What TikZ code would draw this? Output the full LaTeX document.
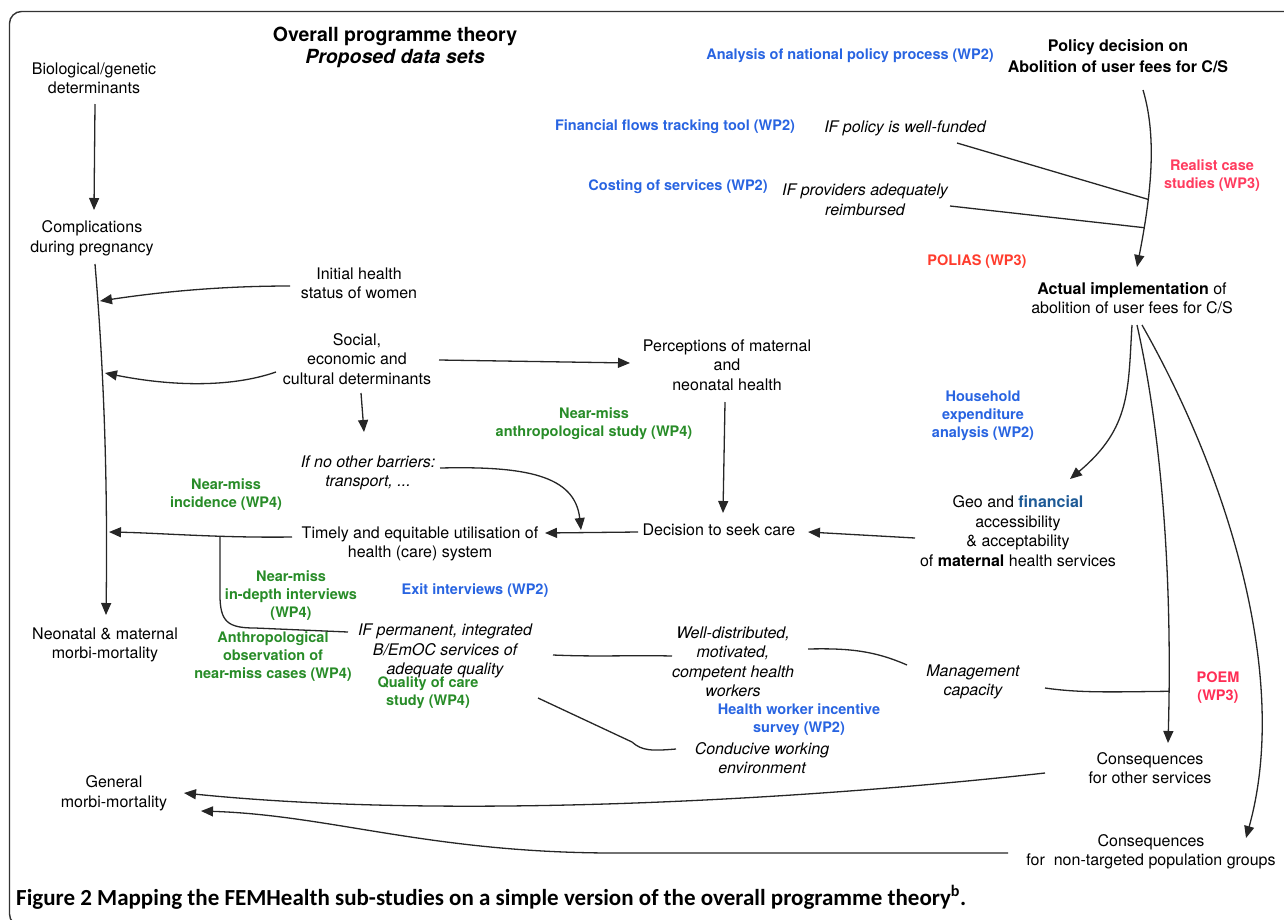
\documentclass[tikz,border=0pt]{standalone}
\usepackage{fontspec}
\setmainfont{TeX Gyre Heros}
\newfontfamily\capfont{Carlito}
\usetikzlibrary{arrows.meta,calc}
\definecolor{wpblue}{RGB}{40,100,225}
\definecolor{wpgreen}{RGB}{40,140,40}
\definecolor{realred}{RGB}{255,60,95}
\definecolor{poliasred}{RGB}{255,60,45}
\definecolor{poemred}{RGB}{255,45,85}
\definecolor{finblue}{RGB}{30,90,150}
\tikzset{
 txt/.style={font=\fontsize{16}{19.5}\selectfont, align=center, inner sep=1pt},
 itx/.style={font=\itshape\fontsize{16}{19.5}\selectfont, align=center, inner sep=1pt},
 lbl/.style={font=\bfseries\fontsize{14.5}{18}\selectfont, align=center, inner sep=1pt},
 bld/.style={font=\bfseries\fontsize{16}{20.5}\selectfont, align=center, inner sep=1pt},
 ttl/.style={font=\bfseries\fontsize{19.5}{21.5}\selectfont, align=center, inner sep=1pt},
 ln/.style={draw=black!85, line width=1.3pt},
 arr/.style={ln, -{Triangle[length=12pt,width=10pt]}},
}
\begin{document}
\begin{tikzpicture}[x=1pt,y=-1pt]
\useasboundingbox (0,0) rectangle (1284,919);
\draw[line width=1.4pt, draw=black!80, rounded corners=12pt] (9.5,11.5) rectangle (1310,926);

% ---- nodes ----
\node[ttl] (title) at (395,47.5) {Overall programme theory\\\textit{Proposed data sets}};
\node[txt] (bio) at (94,78.5) {Biological/genetic\\determinants};
\node[txt] (comp) at (92,238.5) {Complications\\during pregnancy};
\node[txt] (neo) at (105,645) {Neonatal \& maternal\\morbi-mortality};
\node[txt] (init) at (359,283.5) {Initial health\\status of women};
\node[txt] (social) at (357,359) {Social,\\economic and\\cultural determinants};
\node[txt] (percep) at (727,365) {Perceptions of maternal\\and\\neonatal health};
\node[itx] (barr) at (368,473) {If no other barriers:\\transport, ...};
\node[txt] (timely) at (420,544) {Timely and equitable utilisation of\\health (care) system};
\node[txt] (decision) at (719,530) {Decision to seek care};
\node[txt] (geo) at (1018,531) {Geo and \textcolor{finblue}{\bfseries financial}\\accessibility\\\& acceptability\\of \textbf{maternal} health services};
\node[lbl,text=wpblue] (household) at (983,416) {Household\\expenditure\\analysis (WP2)};
\node[lbl,text=wpgreen] (nmanthro) at (594,424) {Near-miss\\anthropological study (WP4)};
\node[lbl,text=wpgreen] (nmincid) at (226,495) {Near-miss\\incidence (WP4)};
\node[lbl,text=wpgreen] (nmdepth) at (291,596) {Near-miss\\in-depth interviews\\(WP4)};
\node[lbl,text=wpgreen] (anthobs) at (273,657) {Anthropological\\observation of\\near-miss cases (WP4)};
\node[lbl,text=wpgreen] (quality) at (428,693) {Quality of care\\study (WP4)};
\node[lbl,text=wpblue] (exit) at (475,591) {Exit interviews (WP2)};
\node[itx] (ifperm) at (445,651) {IF permanent, integrated\\B/EmOC services of\\adequate quality};
\node[itx] (welldist) at (733,662) {Well-distributed,\\motivated,\\competent health\\workers};
\node[lbl,text=wpblue] (hwsurvey) at (799,720) {Health worker incentive\\survey (WP2)};
\node[itx] (mgmt) at (973,682) {Management\\capacity};
\node[itx] (conducive) at (762,758) {Conducive working\\environment};
\node[txt] (general) at (114,793.5) {General\\morbi-mortality};
\node[txt] (consoth) at (1150,768) {Consequences\\for other services};
\node[txt] (consnon) at (1151,852) {Consequences\\for\ \ non-targeted population groups};
\node[lbl,text=poemred] (poem) at (1218,688) {POEM\\(WP3)};
\node[lbl,text=realred] (realist) at (1212,176) {Realist case\\studies (WP3)};
\node[lbl,text=poliasred] (polias) at (977,262) {POLIAS (WP3)};
\node[txt] (actual) at (1132,298) {\textbf{Actual implementation} of\\abolition of user fees for C/S};
\node[bld] (policy) at (1118,56) {Policy decision on\\Abolition of user fees for C/S};
\node[lbl,text=wpblue] (analysis) at (850,56) {Analysis of national policy process (WP2)};
\node[lbl,text=wpblue] (financial) at (675,127) {Financial flows tracking tool (WP2)};
\node[lbl,text=wpblue] (costing) at (678,187) {Costing of services (WP2)};
\node[itx] (ifpolicy) at (905,128) {IF policy is well-funded};
\node[itx] (ifprov) at (865,200) {IF providers adequately\\reimbursed};
\node[anchor=west, inner sep=0pt, font=\capfont\bfseries\fontsize{23}{26}\selectfont] (caption) at (16,897) {Figure 2 Mapping the FEMHealth sub-studies on a simple version of the overall programme theory\textsuperscript{b}.};

% ---- junction coordinates ----
\coordinate (mA) at (100,301);
\coordinate (mB) at (105,373);
\coordinate (mC) at (109,532);
\coordinate (jb) at (220,537);
\coordinate (jd) at (581,530);

% ---- connectors ----
\draw[arr] ([shift={(1,25.5)}]bio.center) -- ([shift={(2,-28.5)}]comp.center);
\draw[arr] ([shift={(3,25.5)}]comp.center) .. controls (103,360) and (108,470) .. ([shift={(1,-30)}]neo.center);
\draw[arr] ([shift={(-69,2.5)}]init.center) .. controls (220,286) and (160,292) .. (mA);
\draw[arr] ([shift={(-81,13)}]social.center) .. controls (230,388) and (170,386) .. (mB);
\draw[arr] ([shift={(82,1)}]social.center) -- ([shift={(-97,-2)}]percep.center);
\draw[arr] ([shift={(4,34)}]social.center) -- ([shift={(-4,-41)}]barr.center);
\draw[arr] ([shift={(-2,37)}]percep.center) -- ([shift={(4,-17)}]decision.center);
\draw[arr] ([shift={(72,-5)}]barr.center) .. controls (525,466) and (575,475) .. (jd);
\draw[arr] ([shift={(-81,2)}]decision.center) -- ([shift={(125,-11)}]timely.center);
\draw[arr] ([shift={(-128,-7)}]timely.center) .. controls (220,538) and (160,533) .. (mC);
\draw[ln] (jb) -- (220,595) .. controls (220,622) and (228,628) .. (255,628) -- ([shift={(-97,-19)}]ifperm.center);
\draw[arr] ([shift={(-103,7)}]geo.center) -- ([shift={(89,2)}]decision.center);
\draw[ln] ([shift={(108,4)}]ifperm.center) .. controls (600,657) and (630,655) .. ([shift={(-61,-6)}]welldist.center);
\draw[ln] ([shift={(75,-13)}]welldist.center) .. controls (850,648) and (875,651) .. ([shift={(-66,-17)}]mgmt.center);
\draw[ln] ([shift={(93,47)}]ifperm.center) -- (632,742) .. controls (642,751) and (652,751) .. ([shift={(-86,-9)}]conducive.center);

% policy to actual
\draw[arr] ([shift={(25,34)}]policy.center) .. controls (1158,140) and (1150,200) .. ([shift={(5,-31)}]actual.center)
  coordinate[pos=0.65] (jp1) coordinate[pos=0.8] (jp2);
\draw[ln] ([shift={(52,15)}]ifpolicy.center) -- (jp1);
\draw[ln] ([shift={(85,6)}]ifprov.center) -- (jp2);

% from actual implementation
\draw[arr] ([shift={(0,27)}]actual.center) .. controls (1128,390) and (1131,428) .. ([shift={(52,-52)}]geo.center);
\draw[arr] ([shift={(5,27)}]actual.center) .. controls (1165,450) and (1172,600) .. ([shift={(18,-25)}]consoth.center)
  coordinate[pos=0.88] (j2);
\draw[arr] ([shift={(10,27)}]actual.center) .. controls (1230,480) and (1290,680) .. ([shift={(95,-14)}]consnon.center);
\draw[ln] ([shift={(72,6)}]mgmt.center) .. controls (1080,693) and (1110,692) .. (j2);

% consequences to general morbi-mortality
\draw[arr] ([shift={(-105,5)}]consoth.center) .. controls (800,800) and (450,820) .. ([shift={(70,-0.5)}]general.center);
\draw[arr] ([shift={(-143,1)}]consnon.center) -- (615,853) .. controls (430,853) and (330,815) .. ([shift={(87,17.5)}]general.center);
\end{tikzpicture}
\end{document}
